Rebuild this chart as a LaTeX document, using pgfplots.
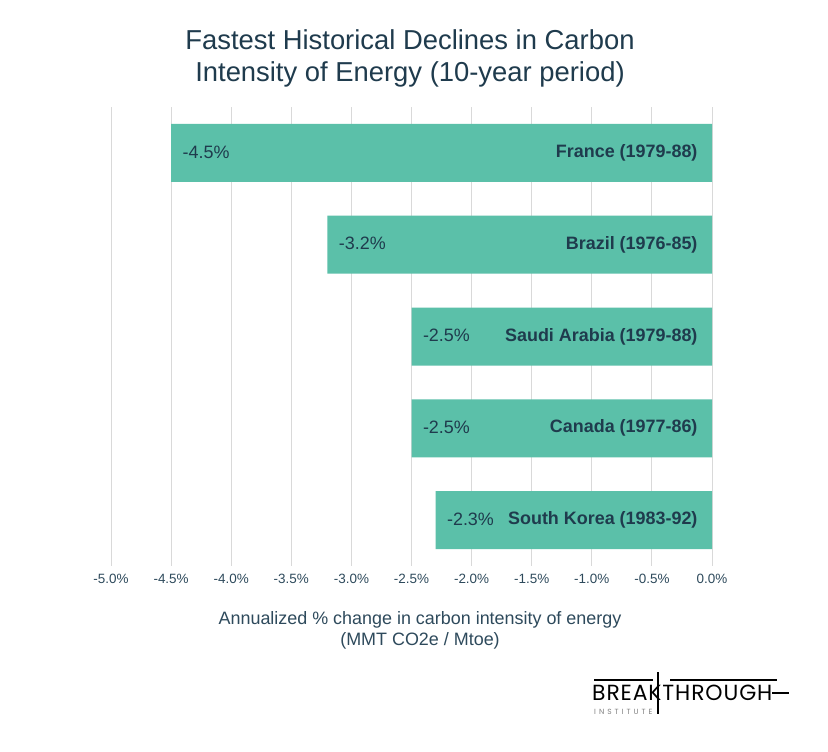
\documentclass[border=0pt]{standalone}
\usepackage{pgfplots}
\pgfplotsset{compat=1.18}
\usepackage{fontspec}
\setmainfont{Liberation Sans}
\newfontfamily\logofont[LetterSpace=4]{Poppins}
\newfontfamily\logosmall[LetterSpace=40]{Poppins}
\definecolor{barc}{HTML}{5BC0A9}
\definecolor{titlec}{HTML}{1F3B4D}
\definecolor{tickc}{HTML}{2E4A5C}
\definecolor{gridc}{HTML}{D9D9D9}
\begin{document}
\begin{tikzpicture}
\path[fill=white] (0,0) rectangle (828bp,-752bp);
\node[text=titlec, font=\fontsize{27.5}{32}\selectfont, align=center] at (410bp,-58bp)
  {Fastest Historical Declines in Carbon\\Intensity of Energy (10-year period)};
\begin{axis}[
  at={(111bp,-107bp)}, anchor=north west,
  scale only axis, width=601bp, height=459bp,
  xmin=-5, xmax=0, ymin=-0.5, ymax=4.5, y dir=reverse,
  axis line style={draw=none}, major tick length=0pt,
  xmajorgrids, grid style={gridc, line width=1bp},
  xtick={-5,-4.5,...,0}, ytick=\empty,
  xticklabel={\pgfmathprintnumber[fixed,fixed zerofill,precision=1,assume math mode=true]{\tick}\%},
  xticklabel style={text=tickc, font=\fontsize{13.5}{15}\selectfont, yshift=-5bp},
  clip=false,
]
\addplot[xbar, bar width=58bp, fill=barc, draw=none,
  nodes near coords={\pgfmathprintnumber[fixed,fixed zerofill,precision=1,assume math mode=true]{\pgfplotspointmeta}\%},
  every node near coord/.append style={anchor=west, xshift=8bp, yshift=1bp, text=titlec, font=\fontsize{18}{20}\selectfont},
] coordinates {(-4.5,0) (-3.2,1) (-2.5,2) (-2.5,3) (-2.3,4)};
\addplot[draw=none, mark=none, nodes near coords, point meta=explicit symbolic,
  every node near coord/.append style={anchor=east, xshift=-11bp, text=titlec, font=\bfseries\fontsize{18}{20}\selectfont},
] coordinates {(0,0) [France (1979-88)] (0,1) [Brazil (1976-85)] (0,2) [Saudi Arabia (1979-88)] (0,3) [Canada (1977-86)] (0,4) [South Korea (1983-92)]};
\end{axis}
\node[text=tickc, font=\fontsize{18}{21}\selectfont, align=center] at (420bp,-630bp)
  {Annualized \% change in carbon intensity of energy\\(MMT CO2e / Mtoe)};
% logo
\node[anchor=west, inner sep=0pt, font=\logofont\fontsize{22}{22}\selectfont] at (592bp,-693bp) {BREAKTHROUGH};
\node[anchor=west, inner sep=0pt, text=gray, font=\logosmall\fontsize{7.5}{7.5}\selectfont] at (594bp,-712bp) {INSTITUTE};
\draw[line width=1.2bp] (594bp,-680bp) -- (653bp,-680bp);
\draw[line width=1.2bp] (670bp,-680bp) -- (777bp,-680bp);
\draw[line width=1.5bp] (658bp,-672bp) -- (658bp,-714bp);
\draw[line width=1.2bp] (772bp,-693bp) -- (789bp,-693bp);
\end{tikzpicture}
\end{document}
